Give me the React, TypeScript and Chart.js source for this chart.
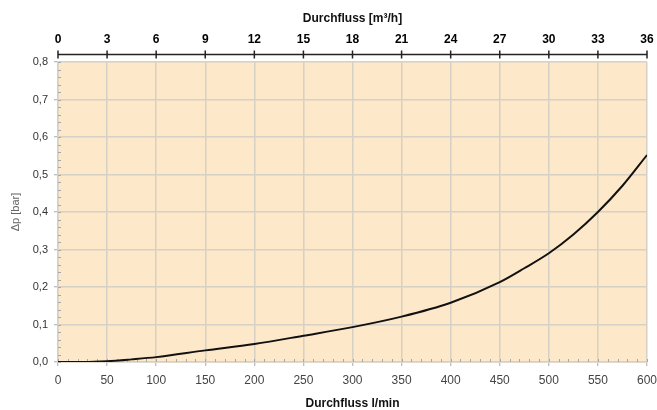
import React, { useEffect, useRef } from "react";
import { Chart, registerables } from "chart.js";

Chart.register(...registerables);

const flowLpm = [0, 25, 50, 75, 100, 150, 200, 250, 300, 350, 400, 450, 475, 500, 525, 550, 575, 600];
const pressureBar = [0, 0, 0.002, 0.007, 0.013, 0.031, 0.048, 0.07, 0.093, 0.121, 0.158, 0.213, 0.25, 0.29, 0.34, 0.4, 0.47, 0.552];
const topAxisMin = 0;
const topAxisMax = 36;
const topAxisStep = 3;
const bottomAxisStep = 50;
const yStep = 0.1;

const BG = "#fde9c9";
const GRID = "#d6d0c6";
const FONT = "'Liberation Sans', Arial, Helvetica, sans-serif";

const decorPlugin = {
  id: "decor",
  beforeDraw(chart: any) {
    const { ctx, chartArea } = chart;
    ctx.save();
    ctx.fillStyle = BG;
    ctx.fillRect(chartArea.left, chartArea.top, chartArea.right - chartArea.left, chartArea.bottom - chartArea.top);
    ctx.restore();
  },
  beforeDatasetsDraw(chart: any) {
    const { ctx, chartArea, scales } = chart;
    ctx.save();
    ctx.strokeStyle = "#a8a8a8";
    ctx.lineWidth = 1;
    for (let v = 0; v <= 600; v += 10) {
      const px = Math.round(scales.x.getPixelForValue(v)) + 0.5;
      ctx.beginPath();
      ctx.moveTo(px, chartArea.bottom);
      ctx.lineTo(px, chartArea.bottom - 3);
      ctx.stroke();
    }
    for (let i = 0; i <= 40; i++) {
      const py = Math.round(scales.y.getPixelForValue(i * 0.02)) + 0.5;
      ctx.beginPath();
      ctx.moveTo(chartArea.left, py);
      ctx.lineTo(chartArea.left + 3, py);
      ctx.stroke();
    }
    ctx.restore();
  },
  afterDraw(chart: any) {
    const { ctx, chartArea, scales } = chart;
    ctx.save();
    ctx.strokeStyle = "#222";
    ctx.lineWidth = 1.5;
    const yLine = chartArea.top - 7.5;
    ctx.beginPath();
    ctx.moveTo(chartArea.left, yLine);
    ctx.lineTo(chartArea.right, yLine);
    ctx.stroke();
    for (let v = topAxisMin; v <= topAxisMax; v += topAxisStep) {
      const px = scales.x2.getPixelForValue(v);
      ctx.beginPath();
      ctx.moveTo(px, yLine - 4);
      ctx.lineTo(px, yLine + 4);
      ctx.stroke();
    }
    ctx.restore();
  },
};

export default function App() {
  const ref = useRef<HTMLCanvasElement | null>(null);

  useEffect(() => {
    if (!ref.current) return;
    const chart = new Chart(ref.current, {
      type: "line",
      data: {
        datasets: [
          {
            data: flowLpm.map((x, i) => ({ x, y: pressureBar[i] })),
            borderColor: "#111",
            borderWidth: 2,
            pointRadius: 0,
            fill: false,
            cubicInterpolationMode: "monotone",
            xAxisID: "x",
            yAxisID: "y",
          },
        ],
      },
      plugins: [decorPlugin],
      options: {
        animation: false,
        responsive: false,
        maintainAspectRatio: false,
        layout: { padding: { left: 0, right: 10, top: 0, bottom: 0 } },
        plugins: { legend: { display: false }, tooltip: { enabled: false } },
        scales: {
          x: {
            type: "linear",
            position: "bottom",
            min: 0,
            max: 600,
            ticks: {
              stepSize: bottomAxisStep,
              color: "#444",
              font: { family: FONT, size: 12 },
              padding: 7,
              maxRotation: 0,
              autoSkip: false,
            },
            grid: { color: GRID, lineWidth: 1.5, tickLength: 4, tickColor: "#a8a8a8", tickWidth: 1 },
            border: { display: true, color: GRID, width: 1.5 },
            title: {
              display: true,
              text: "Durchfluss l/min",
              color: "#111",
              font: { family: FONT, size: 12, weight: "bold", lineHeight: 1 },
              padding: { top: 0, bottom: 0 },
            },
            afterFit: (s: any) => {
              s.height = 48;
              s.paddingLeft = 0;
              s.paddingRight = 0;
            },
          },
          x2: {
            type: "linear",
            position: "top",
            min: topAxisMin,
            max: topAxisMax,
            ticks: {
              stepSize: topAxisStep,
              color: "#000",
              font: { family: FONT, size: 12, weight: "bold" },
              padding: 15,
              maxRotation: 0,
              autoSkip: false,
            },
            grid: { display: false, drawTicks: false, tickLength: 0 },
            border: { display: false },
            title: {
              display: true,
              text: "Durchfluss [m³/h]",
              color: "#111",
              font: { family: FONT, size: 12, weight: "bold", lineHeight: 1.2 },
              padding: { top: 11, bottom: 0 },
            },
            afterFit: (s: any) => {
              s.height = 62;
              s.paddingLeft = 0;
              s.paddingRight = 0;
            },
          },
          y: {
            type: "linear",
            min: 0,
            max: 0.8,
            ticks: {
              stepSize: yStep,
              color: "#333",
              font: { family: FONT, size: 11 },
              padding: 6,
              callback: (v: any) => Number(v).toFixed(1).replace(".", ","),
            },
            grid: { color: GRID, lineWidth: 1.5, tickLength: 4, tickColor: "#a8a8a8", tickWidth: 1 },
            border: { display: true, color: GRID, width: 1.5 },
            title: {
              display: true,
              text: "Δp [bar]",
              color: "#666",
              font: { family: FONT, size: 11, lineHeight: 1 },
              padding: { top: 10, bottom: 0 },
            },
            afterFit: (s: any) => {
              s.width = 58;
              s.paddingTop = 0;
              s.paddingBottom = 0;
            },
          },
        },
      },
    });
    return () => chart.destroy();
  }, []);

  return (
    <div style={{ position: "fixed", left: 0, top: 0, width: 657, height: 410, background: "#fff" }}>
      <canvas ref={ref} width={657} height={410} style={{ width: 657, height: 410, display: "block" }} />
    </div>
  );
}
